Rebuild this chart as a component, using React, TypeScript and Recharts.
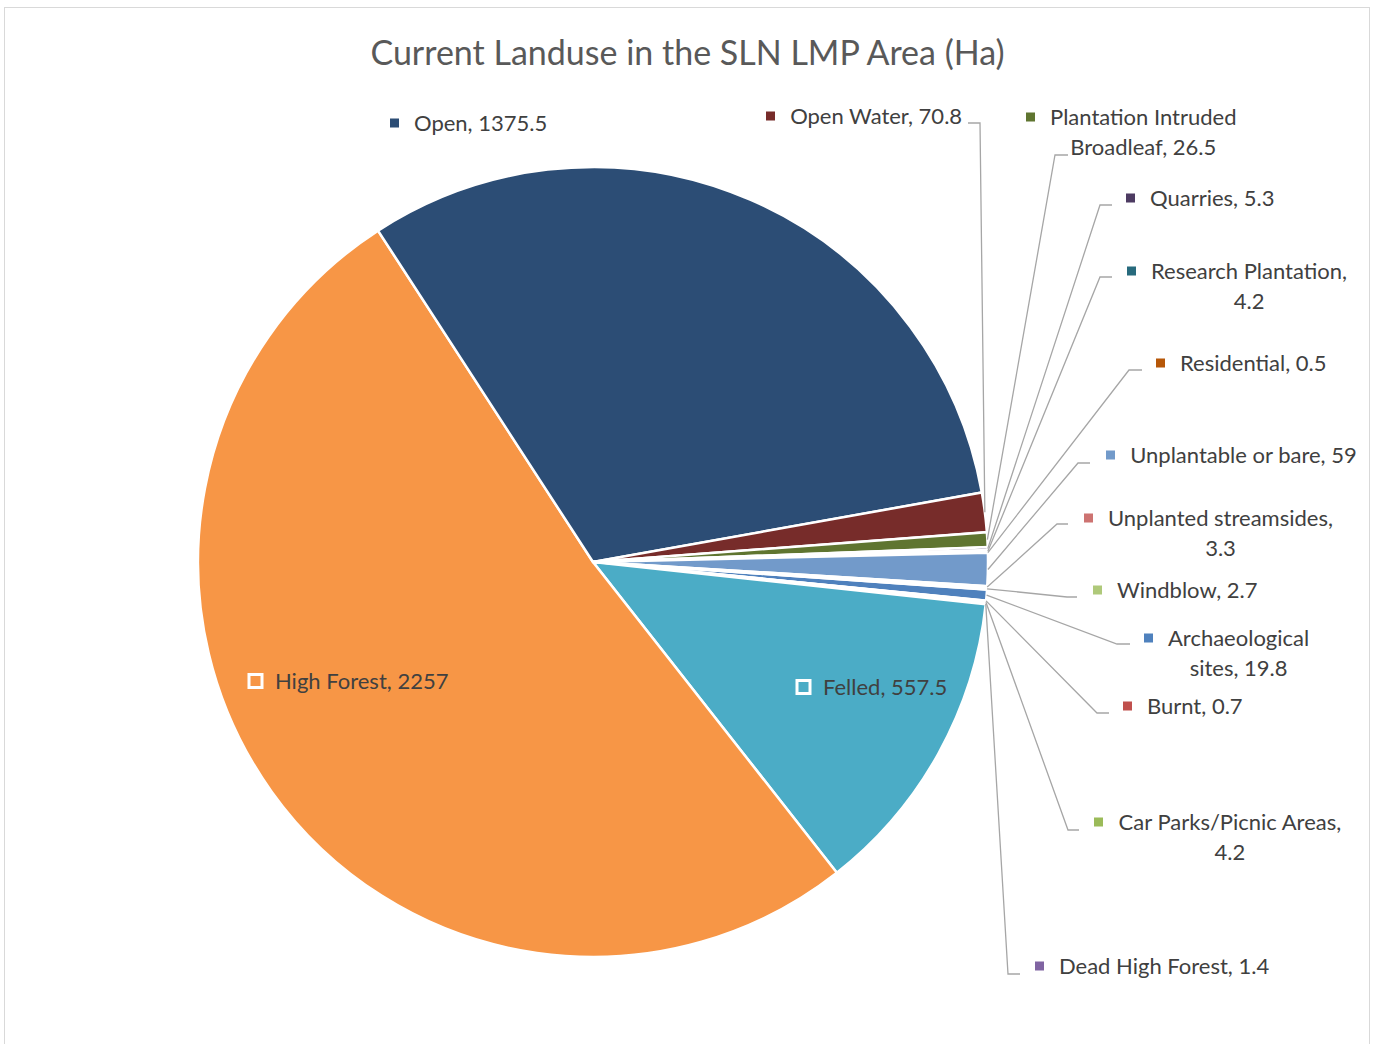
import { PieChart, Pie, Cell } from "recharts";

// Excel sorted the categories alphabetically; the first slice starts just below 3 o'clock
const CATEGORIES = [
  "Archaeological sites",
  "Burnt",
  "Car Parks/Picnic Areas",
  "Dead High Forest",
  "Felled",
  "High Forest",
  "Open",
  "Open Water",
  "Plantation Intruded Broadleaf",
  "Quarries",
  "Research Plantation",
  "Residential",
  "Unplantable or bare",
  "Unplanted streamsides",
  "Windblow",
];
const AREA_HA = [19.8, 0.7, 4.2, 1.4, 557.5, 2257, 1375.5, 70.8, 26.5, 5.3, 4.2, 0.5, 59, 3.3, 2.7];
const COLORS = [
  "#4F81BD", "#C0504D", "#9BBB59", "#8064A2", "#4BACC6", "#F79646",
  "#2C4D75", "#772C2A", "#5F7530", "#4D3B62", "#276A7D", "#B65708",
  "#729ACA", "#CD7371", "#AFC97A",
];

const FONT = "Lato, 'Open Sans', sans-serif";
const LABEL_SIZE = 22;
const LINE_GAP = 29.5;

// where each data label sits: text left, middle of first line, words on line 1,
// leader elbow [x, y, end of the short horizontal]
type Layout = { x: number; y: number; br?: number; inside?: boolean; leader?: [number, number, number] };
const LABEL_LAYOUT: Record<string, Layout> = {
  "Archaeological sites": { x: 1168, y: 638, br: 1, leader: [1117, 644, 1130] },
  Burnt: { x: 1147, y: 706, leader: [1097, 713, 1109] },
  "Car Parks/Picnic Areas": { x: 1118, y: 822, br: 3, leader: [1068, 830, 1079] },
  "Dead High Forest": { x: 1059, y: 966, leader: [1008, 974, 1020] },
  Felled: { x: 823, y: 687, inside: true },
  "High Forest": { x: 275, y: 681, inside: true },
  Open: { x: 414, y: 123 },
  "Open Water": { x: 790, y: 116, leader: [980, 123, 968] },
  "Plantation Intruded Broadleaf": { x: 1050, y: 117, br: 2, leader: [1055, 155, 1068] },
  Quarries: { x: 1150, y: 198, leader: [1100, 205, 1112] },
  "Research Plantation": { x: 1151, y: 271, br: 2, leader: [1100, 277, 1112] },
  Residential: { x: 1180, y: 363, leader: [1129, 370, 1142] },
  "Unplantable or bare": { x: 1130, y: 455, leader: [1078, 463, 1090] },
  "Unplanted streamsides": { x: 1108, y: 518, br: 2, leader: [1057, 524, 1068] },
  Windblow: { x: 1117, y: 590, leader: [1067, 597, 1077] },
};

const data = CATEGORIES.map((name, i) => ({ name, value: AREA_HA[i] }));

let ctx: CanvasRenderingContext2D | null = null;
function textWidth(s: string) {
  if (!ctx) ctx = document.createElement("canvas").getContext("2d");
  if (!ctx) return s.length * LABEL_SIZE * 0.5;
  ctx.font = `${LABEL_SIZE}px ${FONT}`;
  return ctx.measureText(s).width;
}

function renderLabel(props: any) {
  const { cx, cy, midAngle, outerRadius, index } = props;
  const name = CATEGORIES[index];
  const lay = LABEL_LAYOUT[name];
  if (!lay) return null;
  const words = `${name}, ${AREA_HA[index]}`.split(" ");
  const lines = lay.br
    ? [words.slice(0, lay.br).join(" "), words.slice(lay.br).join(" ")]
    : [words.join(" ")];
  const mid = lay.x + textWidth(lines[0]) / 2;
  const rad = (-midAngle * Math.PI) / 180;
  const px = cx + outerRadius * Math.cos(rad);
  const py = cy + outerRadius * Math.sin(rad);
  const color = COLORS[index];

  return (
    <g key={`lbl-${index}`}>
      {lay.leader && (
        <polyline
          points={`${px},${py} ${lay.leader[0]},${lay.leader[1]} ${lay.leader[2]},${lay.leader[1]}`}
          fill="none"
          stroke="#A6A6A6"
          strokeWidth={1.3}
        />
      )}
      {lay.inside ? (
        <rect x={lay.x - 26} y={lay.y - 6.5} width={13} height={13} fill={color} stroke="#fff" strokeWidth={3} />
      ) : (
        <rect x={lay.x - 24} y={lay.y - 4.5} width={9} height={9} fill={color} />
      )}
      {lines.map((ln, k) => (
        <text
          key={k}
          x={mid}
          y={lay.y + k * LINE_GAP + 8}
          textAnchor="middle"
          fill="#404040"
          fontSize={LABEL_SIZE}
          fontFamily={FONT}
        >
          {ln}
        </text>
      ))}
    </g>
  );
}

export default function App() {
  return (
    <div style={{ position: "absolute", left: 0, top: 0, width: 1379, height: 1044, background: "#fff", overflow: "hidden" }}>
      <div
        style={{
          position: "absolute",
          left: 4,
          top: 7,
          width: 1366,
          height: 1060,
          border: "1.5px solid #D9D9D9",
          boxSizing: "border-box",
        }}
      />
      <div
        style={{
          position: "absolute",
          left: 0,
          top: 31,
          width: 1375,
          textAlign: "center",
          fontFamily: FONT,
          fontSize: 34,
          lineHeight: "42px",
          color: "#595959",
        }}
      >
        Current Landuse in the SLN LMP Area (Ha)
      </div>
      <div style={{ position: "absolute", left: 0, top: 0 }}>
        <PieChart width={1379} height={1044} margin={{ top: 0, right: 0, bottom: 0, left: 0 }}>
          <Pie
            data={data}
            dataKey="value"
            nameKey="name"
            cx={593}
            cy={562}
            outerRadius={395}
            startAngle={-4}
            endAngle={-364}
            stroke="#fff"
            strokeWidth={2.5}
            label={renderLabel}
            labelLine={false}
            isAnimationActive={false}
          >
            {data.map((d, i) => (
              <Cell key={d.name} fill={COLORS[i]} />
            ))}
          </Pie>
        </PieChart>
      </div>
    </div>
  );
}
